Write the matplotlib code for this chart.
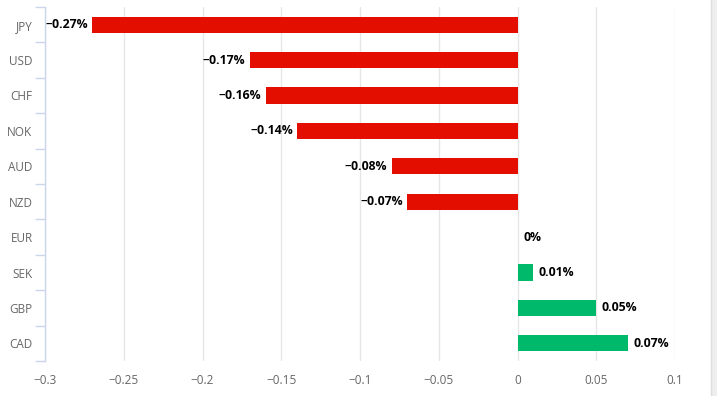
import matplotlib
matplotlib.use("Agg")
import matplotlib.pyplot as plt
from matplotlib.patches import Rectangle

currencies = ["JPY", "USD", "CHF", "NOK", "AUD", "NZD", "EUR", "SEK", "GBP", "CAD"]
values = [-0.27, -0.17, -0.16, -0.14, -0.08, -0.07, 0.0, 0.01, 0.05, 0.07]
labels = ["\u22120.27%", "\u22120.17%", "\u22120.16%", "\u22120.14%", "\u22120.08%",
          "\u22120.07%", "0%", "0.01%", "0.05%", "0.07%"]
xticks = [-0.3, -0.25, -0.2, -0.15, -0.1, -0.05, 0, 0.05, 0.1]
xticklabels = ["\u22120.3", "\u22120.25", "\u22120.2", "\u22120.15", "\u22120.1",
               "\u22120.05", "0", "0.05", "0.1"]

plt.rcParams['font.family'] = ['Open Sans', 'DejaVu Sans']

W, H = 717, 396
fig = plt.figure(figsize=(W / 100, H / 100), dpi=100)
ax = fig.add_axes([45 / W, 1 - 361 / H, (675 - 45) / W, (361 - 7) / H])

red = "#e30e00"
green = "#00b96b"
ypos = list(range(len(currencies)))
colors = [red if v < 0 else green for v in values]
ax.barh(ypos, values, height=0.46, color=colors, zorder=3)

for y, v, lab in zip(ypos, values, labels):
    if v < 0:
        ax.annotate(lab, (v, y), xytext=(-3, 0), textcoords="offset points",
                    ha="right", va="center", fontsize=8.8, fontweight="bold",
                    color="#000000", zorder=4)
    else:
        ax.annotate(lab, (v, y), xytext=(4, 0), textcoords="offset points",
                    ha="left", va="center", fontsize=8.8, fontweight="bold",
                    color="#000000", zorder=4)

ax.set_xlim(-0.3, 0.1)
ax.set_ylim(len(currencies) - 0.5, -0.5)
ax.set_xticks(xticks)
ax.set_xticklabels(xticklabels)
ax.set_yticks(ypos)
ax.set_yticklabels(currencies)
ax.set_yticks([i - 0.5 for i in range(len(currencies) + 1)], minor=True)

ax.grid(axis="x", color="#e6e6e6", linewidth=1, zorder=0)
ax.grid(axis="y", visible=False)
for s in ["top", "right", "bottom"]:
    ax.spines[s].set_visible(False)
ax.spines["left"].set_color("#ccd6eb")
ax.spines["left"].set_linewidth(1)

ax.tick_params(axis="x", length=0, pad=9, labelsize=8.5, labelcolor="#666666")
ax.tick_params(axis="y", which="major", length=0, pad=9, labelsize=8.5, labelcolor="#666666")
ax.tick_params(axis="y", which="minor", length=7, width=1, color="#ccd6eb")

# right-side page edge band
fig.patches.append(Rectangle((711 / W, 0), 6 / W, 1, transform=fig.transFigure,
                             facecolor="#eeeeee", edgecolor="none"))
fig.lines.append(plt.Line2D([711 / W, 711 / W], [0, 1], transform=fig.transFigure,
                            color="#dddddd", linewidth=1))

fig.savefig("out.png", dpi=100)
